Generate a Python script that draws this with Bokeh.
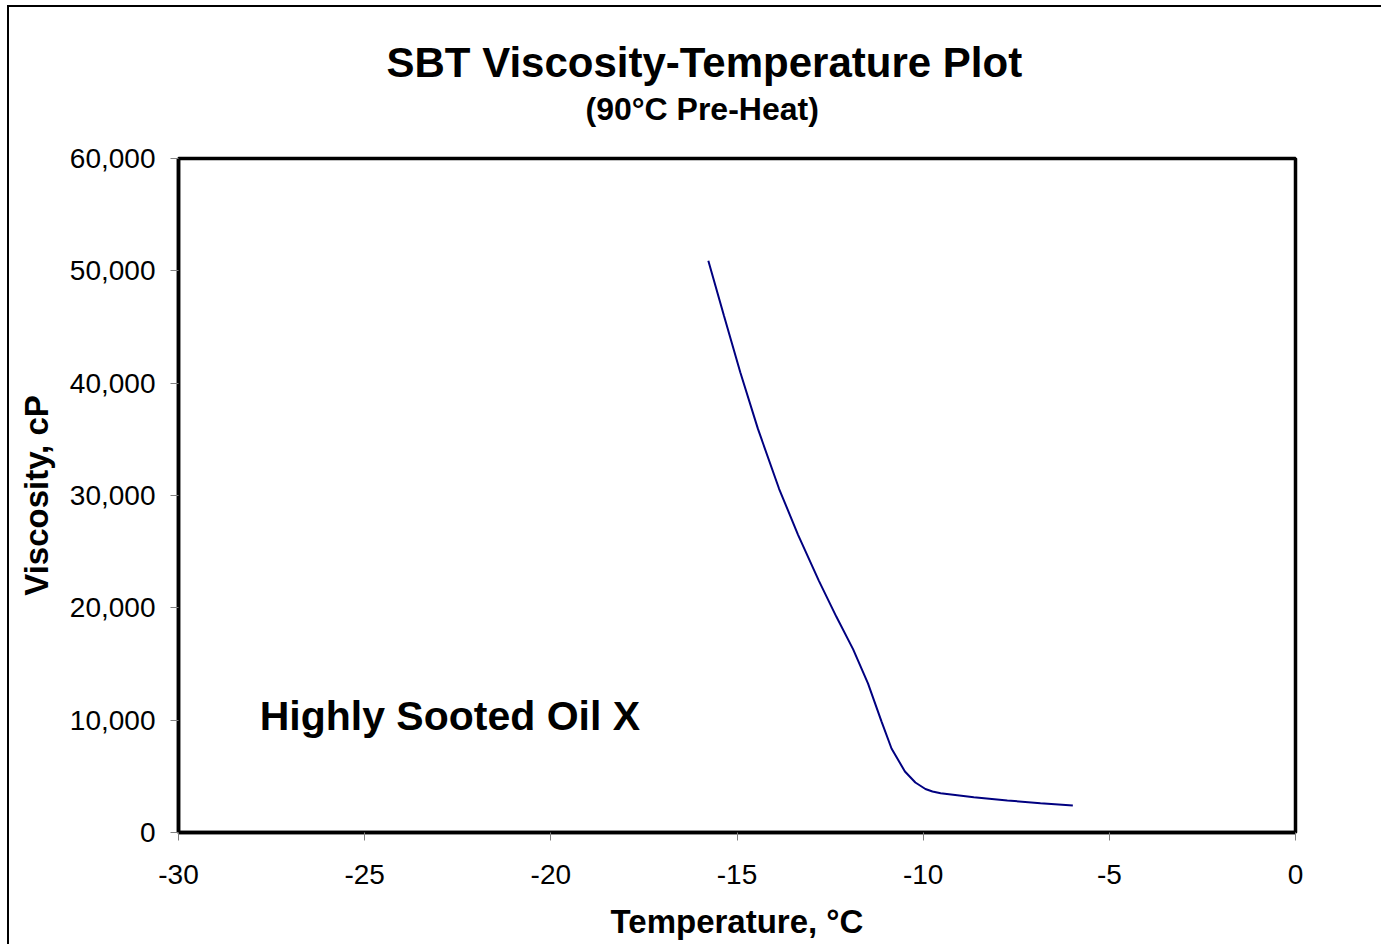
from bokeh.plotting import figure
from bokeh.models import NumeralTickFormatter, FixedTicker, Range1d, Title, Label
from bokeh.embed import file_html
from bokeh.resources import INLINE

# ---- data ----
temperature_c = [-15.77, -15.35, -14.91, -14.44, -13.87, -13.36, -12.80, -12.33,
                 -11.88, -11.48, -11.12, -10.85, -10.49, -10.21, -9.94, -9.75,
                 -9.53, -8.64, -7.74, -6.85, -5.98]
viscosity_cp = [50900, 46000, 40950, 35950, 30600, 26500, 22400, 19200,
                16300, 13250, 9900, 7480, 5430, 4450, 3870, 3650,
                3500, 3130, 2850, 2610, 2400]
x_ticks = [-30, -25, -20, -15, -10, -5, 0]
y_ticks = [0, 10000, 20000, 30000, 40000, 50000, 60000]

title_text = "SBT Viscosity-Temperature Plot"
subtitle_text = "(90°C Pre-Heat)"
note_text = "Highly Sooted Oil X"
x_label = "Temperature, °C"
y_label = "Viscosity, cP"

FONT = "Liberation Sans"

p = figure(width=1374, height=939, output_backend="svg", toolbar_location=None,
           x_range=Range1d(-30, 0), y_range=Range1d(0, 60000),
           min_border_left=169, min_border_right=88, min_border_top=151,
           min_border_bottom=114)
p.styles = {"border-top": "2px solid black", "border-left": "2px solid black",
            "margin-left": "7px", "margin-top": "5px"}

p.background_fill_color = "white"
p.border_fill_color = "white"
p.grid.visible = False
p.outline_line_color = "black"
p.outline_line_width = 3.5

p.xaxis.ticker = FixedTicker(ticks=x_ticks)
p.yaxis.ticker = FixedTicker(ticks=y_ticks)
p.xaxis.formatter = NumeralTickFormatter(format="0")
p.yaxis.formatter = NumeralTickFormatter(format="0,0")

for ax in (p.xaxis, p.yaxis):
    ax.axis_line_color = "black"
    ax.axis_line_width = 3.5
    ax.major_tick_line_color = "#808080"
    ax.major_tick_line_width = 1
    ax.major_tick_out = 8
    ax.major_tick_in = 0
    ax.minor_tick_line_color = None
    ax.major_label_text_font = FONT
    ax.major_label_text_font_size = "28px"
    ax.major_label_text_color = "black"
    ax.axis_label_text_font = FONT
    ax.axis_label_text_font_size = "33px"
    ax.axis_label_text_font_style = "bold"
    ax.axis_label_text_color = "black"

p.xaxis.axis_label = x_label
p.yaxis.axis_label = y_label
p.xaxis.major_label_standoff = 24
p.xaxis.axis_label_standoff = 16
p.yaxis.major_label_standoff = 15
p.yaxis.axis_label_standoff = 12

p.line(temperature_c, viscosity_cp, line_color="#000080", line_width=2)

# titles (stacked outward from the frame: spacer, subtitle, main title)
p.add_layout(Title(text=" ", text_font=FONT, text_font_size="27px", standoff=0), "above")
p.add_layout(Title(text=subtitle_text, text_font=FONT, text_font_size="32px",
                   text_font_style="bold", text_color="black", align="left",
                   offset=407, standoff=0), "above")
p.add_layout(Title(text=title_text, text_font=FONT, text_font_size="42px",
                   text_font_style="bold", text_color="black", align="left",
                   offset=208, standoff=5), "above")

p.add_layout(Label(x=-27.82, y=10400, text=note_text,
                   text_font=FONT, text_font_size="41px", text_font_style="bold",
                   text_align="left", text_baseline="middle", text_color="black"))

open("out.html", "w").write(file_html(p, INLINE))
